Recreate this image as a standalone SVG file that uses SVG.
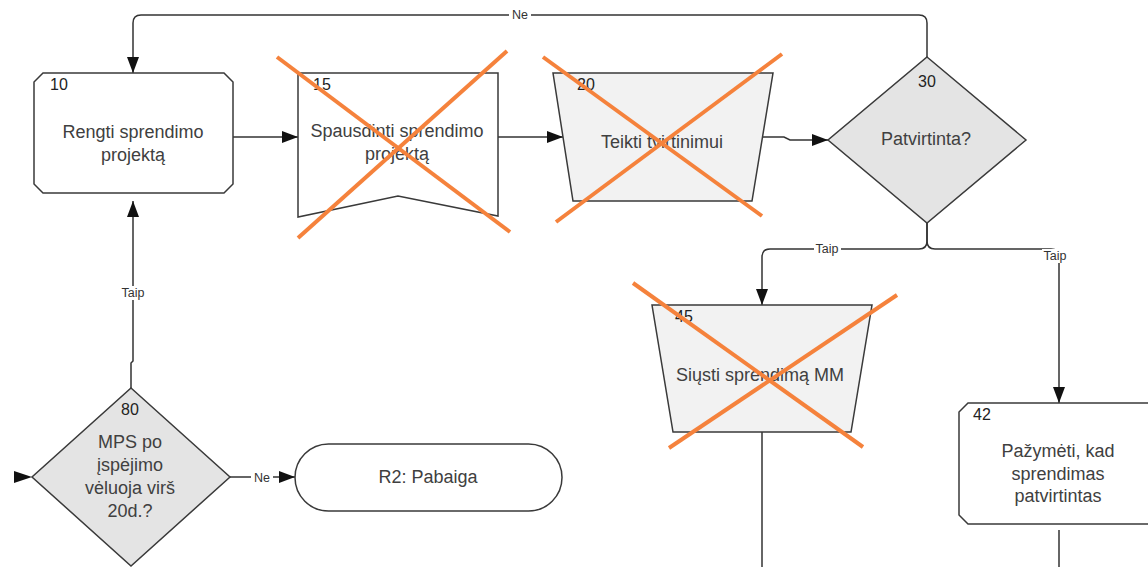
<svg xmlns="http://www.w3.org/2000/svg" width="1148" height="567" viewBox="0 0 1148 567">
<style>
.shape{stroke:#3a3a3a;stroke-width:1.5;stroke-linejoin:miter}
.white{fill:#ffffff}
.light{fill:#f2f2f2}
.dia{fill:#e4e4e4}
.t{font-family:"Liberation Sans",Arial,sans-serif;font-size:18px;fill:#404040;text-anchor:middle}
.n{font-family:"Liberation Sans",Arial,sans-serif;font-size:16px;fill:#222}
.nc{text-anchor:middle}
.c{fill:none;stroke:#333;stroke-width:1.5}
.lbl{font-family:"Liberation Sans",Arial,sans-serif;font-size:12.5px;fill:#333;text-anchor:middle}
.bg{fill:#fff}
.x{stroke:#f5823c;stroke-width:4;stroke-linecap:butt}
</style>
<defs>
<marker id="ah" markerUnits="userSpaceOnUse" markerWidth="18" markerHeight="14" refX="16" refY="6" orient="auto">
<path d="M0,0 L16,6 L0,12 z" fill="#111"/>
</marker>
</defs>
<rect width="1148" height="567" fill="#fff"/>

<g id="connectors">
<path class="c" d="M927,57 V23 Q927,15 919,15 H141 Q133,15 133,23 V73" marker-end="url(#ah)"/>
<path class="c" d="M233,137 H298" marker-end="url(#ah)"/>
<path class="c" d="M498,137 H563" marker-end="url(#ah)"/>
<path class="c" d="M763,137 H784 L790,140 H828" marker-end="url(#ah)"/>
<path class="c" d="M927,223 V241 Q927,249 919,249 H770 Q762,249 762,257 V305" marker-end="url(#ah)"/>
<path class="c" d="M927,223 V241 Q927,249 935,249 H1051 Q1059,249 1059,257 V403" marker-end="url(#ah)"/>
<path class="c" d="M762,432 V567"/>
<path class="c" d="M1059,530 V567"/>
<path class="c" d="M131,388 V363 L133,361 V201" marker-end="url(#ah)"/>
<path class="c" d="M230,477 H295" marker-end="url(#ah)"/>
<polygon points="14,471 32,477 14,483" fill="#111"/>
<rect class="bg" x="509" y="8" width="22" height="14"/>
<text class="lbl" x="520" y="19">Ne</text>
<rect class="bg" x="814" y="242" width="27" height="14"/>
<text class="lbl" x="827" y="253">Taip</text>
<rect class="bg" x="1042" y="249" width="27" height="14"/>
<text class="lbl" x="1055" y="260">Taip</text>
<rect class="bg" x="119" y="286" width="28" height="14"/>
<text class="lbl" x="133" y="297">Taip</text>
<rect class="bg" x="251" y="470" width="22" height="14"/>
<text class="lbl" x="262" y="482">Ne</text>
</g>

<g id="node10">
<polygon class="shape white" points="43,73 224,73 233,82 233,184 224,193 43,193 34,184 34,82"/>
<text class="n" x="50" y="90">10</text>
<text class="t" x="133" y="138">Rengti sprendimo</text>
<text class="t" x="133" y="161">projektą</text>
</g>

<g id="node15">
<polygon class="shape white" points="298,73 498,73 498,216 398,196 298,217"/>
<text class="n" x="313" y="90">15</text>
<text class="t" x="397" y="137">Spausdinti sprendimo</text>
<text class="t" x="397" y="160">projektą</text>
<line class="x" x1="277" y1="57" x2="510" y2="232"/>
<line class="x" x1="507" y1="51" x2="298" y2="238"/>
</g>

<g id="node20">
<polygon class="shape light" points="553,73 773,73 752,201 573,201"/>
<text class="n" x="577" y="90">20</text>
<text class="t" x="662" y="148">Teikti tvirtinimui</text>
<line class="x" x1="543" y1="57" x2="762" y2="216"/>
<line class="x" x1="782" y1="54" x2="556" y2="222"/>
</g>

<g id="node30">
<polygon class="shape dia" points="927,57 1026,140 927,223 828,140"/>
<text class="n nc" x="927" y="87">30</text>
<text class="t" x="926" y="145">Patvirtinta?</text>
</g>

<g id="node45">
<polygon class="shape light" points="652,305 872,305 851,432 673,432"/>
<text class="n" x="675" y="322">45</text>
<text class="t" x="760" y="381">Siųsti sprendimą MM</text>
<line class="x" x1="633" y1="283" x2="863" y2="447"/>
<line class="x" x1="897" y1="295" x2="669" y2="448"/>
</g>

<g id="node42">
<polygon class="shape white" points="968,403 1150,403 1159,412 1159,515 1150,524 968,524 959,515 959,412"/>
<text class="n" x="973" y="420">42</text>
<text class="t" x="1058" y="457">Pažymėti, kad</text>
<text class="t" x="1058" y="480">sprendimas</text>
<text class="t" x="1058" y="502">patvirtintas</text>
</g>

<g id="node80">
<polygon class="shape dia" points="131,388 230,477 131,566 32,477"/>
<text class="n nc" x="130" y="415">80</text>
<text class="t" x="130" y="448">MPS po</text>
<text class="t" x="130" y="471">įspėjimo</text>
<text class="t" x="130" y="494">vėluoja virš</text>
<text class="t" x="130" y="517">20d.?</text>
</g>

<g id="nodeR2">
<rect class="shape white" x="295" y="444" width="267" height="67" rx="33.5" ry="33.5"/>
<text class="t" x="428" y="483">R2: Pabaiga</text>
</g>
</svg>
